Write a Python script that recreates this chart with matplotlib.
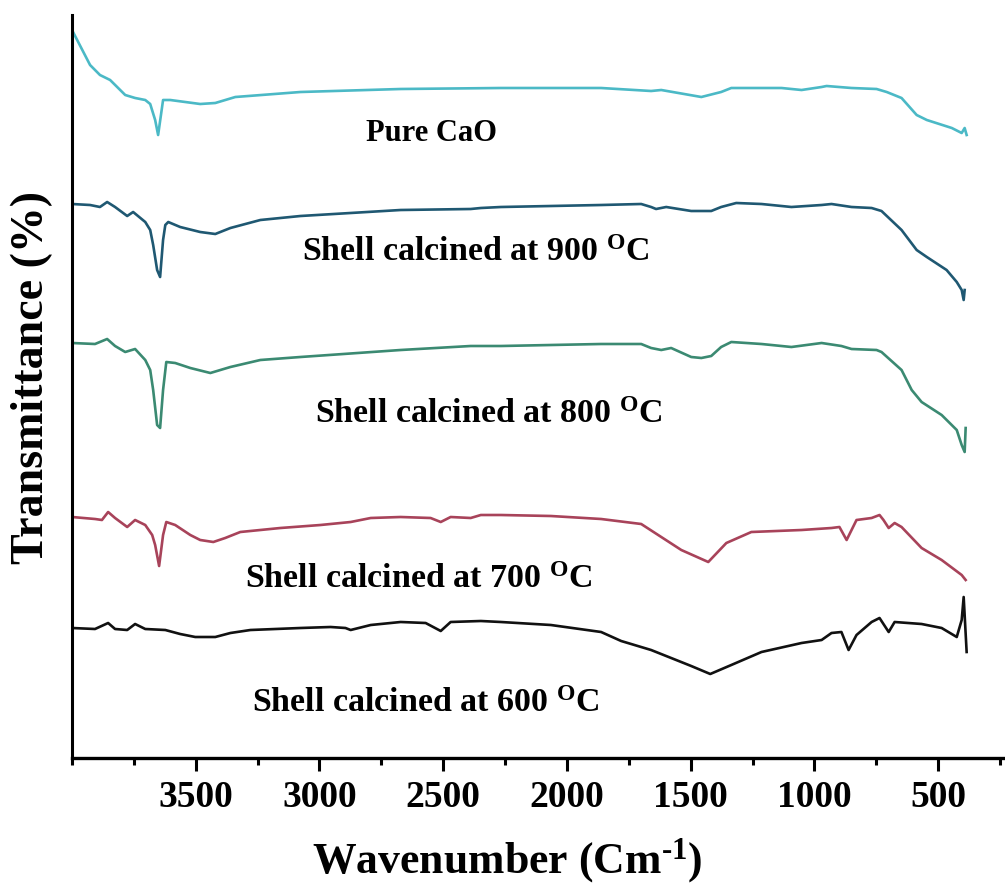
import matplotlib
matplotlib.use("Agg")
import matplotlib.pyplot as plt
from matplotlib.ticker import MultipleLocator

plt.rcParams['font.family'] = ['Liberation Serif', 'DejaVu Serif']
plt.rcParams['font.weight'] = 'bold'
plt.rcParams['mathtext.fontset'] = 'custom'
plt.rcParams['mathtext.rm'] = 'Liberation Serif:bold'
plt.rcParams['mathtext.it'] = 'Liberation Serif:bold'
plt.rcParams['mathtext.bf'] = 'Liberation Serif:bold'

# ---- data (wavenumber in cm^-1, transmittance in arbitrary offset units) ----
wn_cao = [4000, 3927, 3887, 3846, 3785, 3745, 3704, 3684, 3664, 3652, 3632, 3603,
          3482, 3421, 3340, 3077, 2672, 2267, 2065, 1862, 1660, 1619, 1457, 1377,
          1336, 1133, 1052, 971, 951, 850, 749, 708, 648, 587, 546, 445, 405, 393, 385]
t_cao = [72.8, 69.3, 68.3, 67.8, 66.3, 66.0, 65.8, 65.4, 63.8, 62.3, 65.8, 65.8,
         65.4, 65.5, 66.1, 66.6, 66.9, 67.0, 67.0, 67.0, 66.7, 66.8, 66.1, 66.6,
         67.0, 67.0, 66.8, 67.1, 67.2, 67.0, 66.9, 66.6, 66.0, 64.3, 63.8, 63.0, 62.5, 63.0, 62.3]

wn_900 = [4000, 3927, 3887, 3858, 3826, 3777, 3753, 3704, 3684, 3672, 3656, 3644,
          3632, 3623, 3611, 3563, 3482, 3421, 3360, 3239, 3077, 2672, 2389, 2348,
          2267, 1862, 1700, 1660, 1640, 1599, 1498, 1417, 1377, 1316, 1214, 1093,
          971, 931, 850, 769, 729, 648, 587, 546, 466, 425, 405, 397, 393]
t_900 = [55.4, 55.3, 55.1, 55.6, 55.1, 54.2, 54.6, 53.6, 52.8, 51.3, 48.8, 48.1,
         51.8, 53.3, 53.6, 53.1, 52.6, 52.4, 53.0, 53.8, 54.2, 54.8, 54.9, 55.0,
         55.1, 55.3, 55.4, 55.1, 54.9, 55.1, 54.7, 54.7, 55.1, 55.5, 55.4, 55.1,
         55.3, 55.4, 55.1, 55.0, 54.7, 52.8, 50.8, 50.1, 48.8, 47.6, 46.8, 45.8, 46.8]

wn_800 = [4000, 3907, 3858, 3826, 3785, 3745, 3704, 3684, 3672, 3656, 3644, 3632,
          3619, 3583, 3522, 3441, 3360, 3239, 3077, 2672, 2389, 2267, 1862, 1700,
          1660, 1619, 1579, 1498, 1457, 1417, 1377, 1336, 1214, 1093, 971, 891,
          850, 749, 729, 648, 607, 567, 486, 425, 405, 393, 389]
t_800 = [41.5, 41.4, 41.9, 41.2, 40.6, 40.9, 39.8, 38.8, 36.8, 33.3, 33.0, 36.8,
         39.6, 39.5, 39.0, 38.5, 39.1, 39.8, 40.1, 40.8, 41.2, 41.2, 41.4, 41.4,
         41.0, 40.8, 41.0, 40.1, 40.0, 40.2, 41.1, 41.6, 41.4, 41.1, 41.5, 41.2,
         40.9, 40.8, 40.6, 38.8, 36.8, 35.6, 34.3, 32.8, 31.3, 30.6, 33.0]

wn_700 = [4000, 3907, 3879, 3854, 3826, 3777, 3745, 3704, 3676, 3664, 3648, 3632,
          3619, 3583, 3522, 3482, 3429, 3381, 3320, 3158, 2996, 2874, 2793, 2672,
          2551, 2510, 2470, 2389, 2348, 2267, 2065, 1862, 1700, 1619, 1538, 1429,
          1356, 1255, 1052, 931, 899, 870, 830, 769, 737, 721, 700, 676, 648, 567,
          486, 405, 389]
t_700 = [24.1, 23.9, 23.8, 24.6, 24.0, 23.1, 23.8, 23.3, 22.3, 21.3, 19.2, 22.3,
         23.6, 23.3, 22.3, 21.8, 21.6, 22.0, 22.6, 23.0, 23.3, 23.6, 24.0, 24.1,
         24.0, 23.6, 24.1, 24.0, 24.3, 24.3, 24.2, 23.9, 23.4, 22.1, 20.8, 19.6,
         21.5, 22.6, 22.8, 23.0, 23.1, 21.8, 23.8, 24.0, 24.3, 23.8, 23.0, 23.5, 23.1, 21.0,
         19.8, 18.3, 17.8]

wn_600 = [4000, 3907, 3854, 3826, 3777, 3745, 3704, 3623, 3563, 3502, 3421, 3360,
          3279, 3077, 2955, 2895, 2874, 2793, 2672, 2571, 2510, 2470, 2348, 2267,
          2065, 1862, 1781, 1660, 1498, 1421, 1336, 1214, 1052, 971, 931, 891, 862,
          830, 769, 737, 700, 676, 567, 486, 425, 405, 397, 385]
t_600 = [13.0, 12.9, 13.5, 12.9, 12.8, 13.4, 12.9, 12.8, 12.4, 12.1, 12.1, 12.5,
         12.8, 13.0, 13.1, 13.0, 12.8, 13.3, 13.6, 13.5, 12.7, 13.6, 13.7, 13.6,
         13.3, 12.6, 11.7, 10.8, 9.2, 8.4, 9.3, 10.6, 11.5, 11.8, 12.5, 12.6, 10.8,
         12.3, 13.6, 14.0, 12.6, 13.6, 13.4, 13.0, 12.1, 13.8, 16.1, 10.6]

series = [
    (wn_cao, t_cao, '#4bb9c6'),
    (wn_900, t_900, '#1f5872'),
    (wn_800, t_800, '#3b8a72'),
    (wn_700, t_700, '#a8435a'),
    (wn_600, t_600, '#111111'),
]

labels = ["Pure CaO",
          r"Shell calcined at 900 $^{\rm O}$C",
          r"Shell calcined at 800 $^{\rm O}$C",
          r"Shell calcined at 700 $^{\rm O}$C",
          r"Shell calcined at 600 $^{\rm O}$C"]
label_x = [2546, 2368, 2316, 2599, 2571]
label_y = [62.5, 50.6, 34.4, 17.9, 5.4]
label_size = [22, 24.5, 24.5, 24.5, 24.5]

fig = plt.figure(figsize=(10.05, 8.86), dpi=100)
ax = fig.add_axes([72/1005, 1 - 758/886, 1 - 72/1005, (758 - 15)/886])

for wn, t, c in series:
    ax.plot(wn, t, color=c, lw=1.9, solid_joinstyle='round')

for txt, x, y, s in zip(labels, label_x, label_y, label_size):
    ax.text(x, y, txt, ha='center', va='center', fontsize=s, fontweight='bold')

ax.set_xlim(4000, 230)
ax.set_ylim(0, 74.3)
ax.xaxis.set_major_locator(MultipleLocator(500))
ax.xaxis.set_minor_locator(MultipleLocator(250))
ax.set_yticks([])
for sp in ['top', 'right']:
    ax.spines[sp].set_visible(False)
ax.spines['left'].set_linewidth(2.2)
ax.spines['bottom'].set_linewidth(2.4)
ax.tick_params(axis='x', which='major', direction='out', length=9, width=2.2,
               labelsize=27, pad=7)
ax.tick_params(axis='x', which='minor', direction='out', length=5, width=2.2)
ax.set_xticks([3500, 3000, 2500, 2000, 1500, 1000, 500])
ax.set_xticklabels(['3500', '3000', '2500', '2000', '1500', '1000', '500'])

fig.text(507/1005, 1 - 873/886, r"Wavenumber (Cm$^{\text{-1}}$)", fontsize=31.5,
         fontweight='bold', ha='center', va='baseline')
fig.text(32/1005, 1 - 377/886, "Transmittance (%)", fontsize=33, fontweight='bold',
         ha='center', va='center', rotation=90)

fig.savefig("out.png", dpi=100)
